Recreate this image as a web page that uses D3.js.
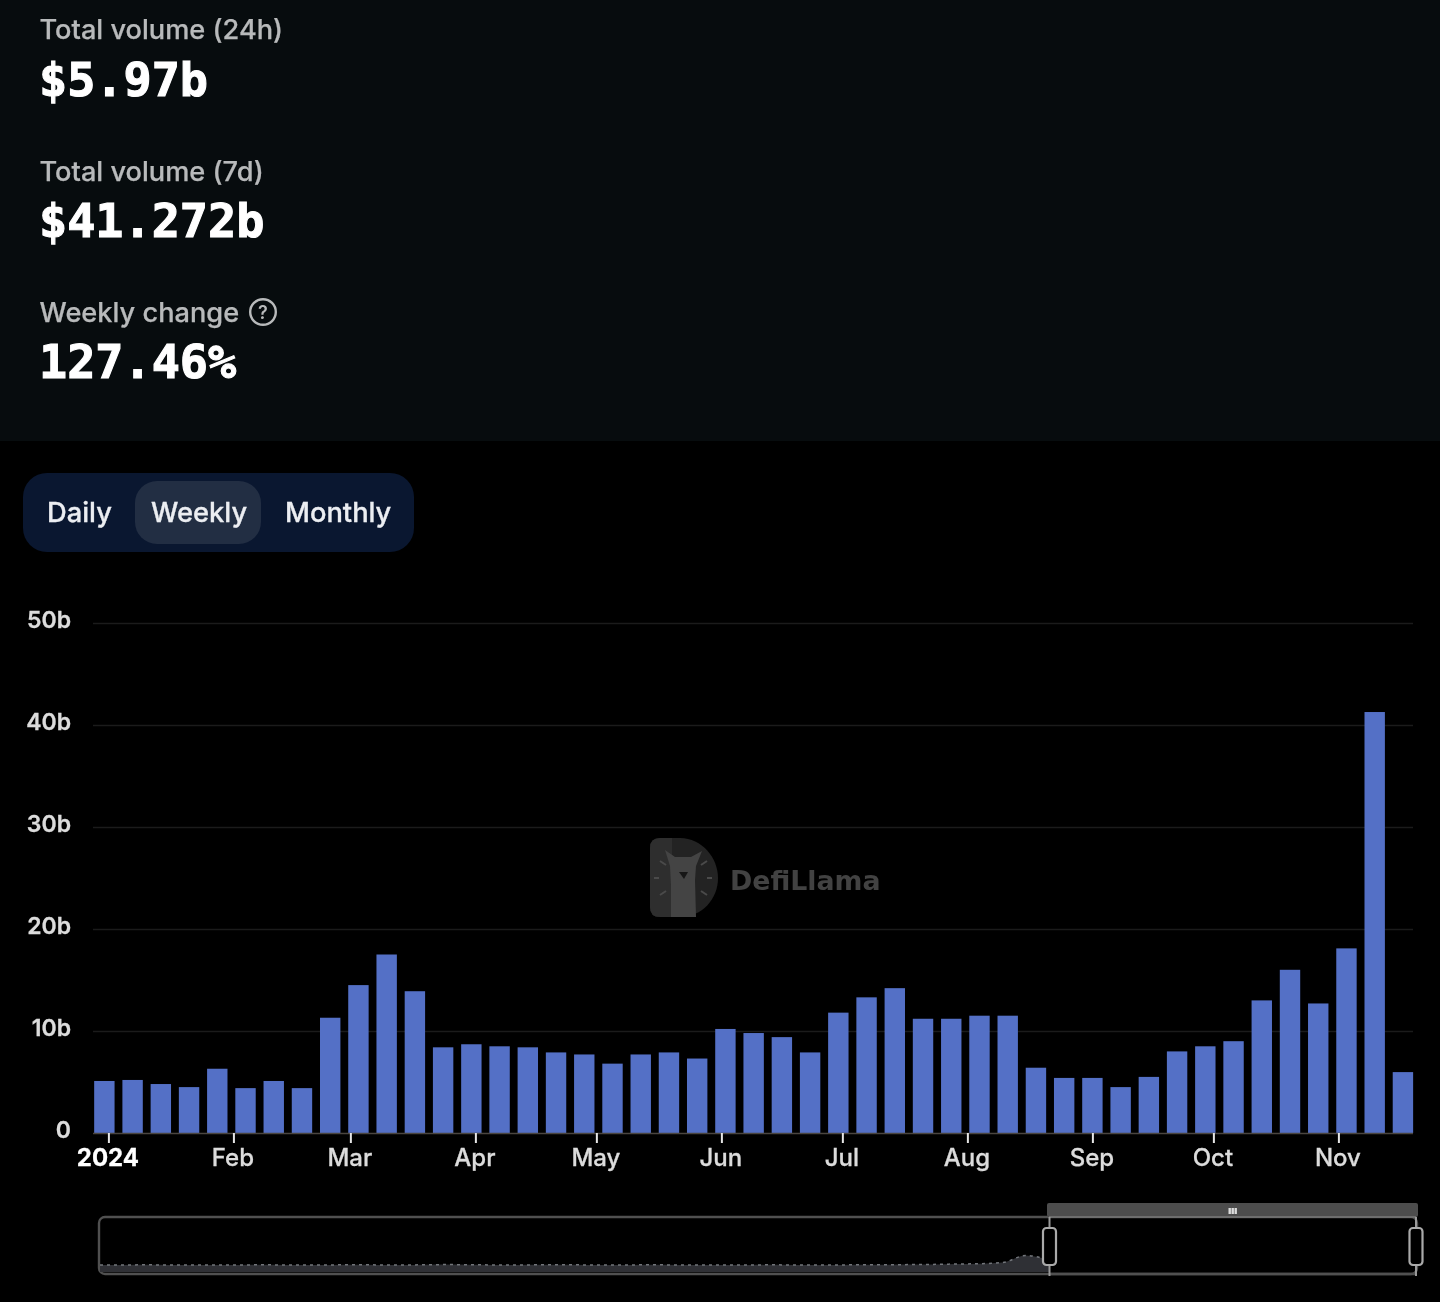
<!DOCTYPE html>
<html>
<head>
<meta charset="utf-8">
<script src="https://cdn.jsdelivr.net/npm/d3@7/dist/d3.min.js"></script>
<style>
html,body{margin:0;padding:0;background:#000;}
svg{display:block;filter:blur(0.55px);}
text{font-family:Inter,"Noto Sans",sans-serif;}
.big{font-family:"DejaVu Sans Mono",monospace;font-weight:700;font-size:46.8px;fill:#fff;stroke:#fff;stroke-width:1.1px;}
.lab{font-size:27.2px;font-weight:500;fill:#b8babb;stroke:#b8babb;stroke-width:.25px;}
.btn{font-size:27.3px;font-weight:500;fill:#eceef2;stroke:#eceef2;stroke-width:.3px;}
.wm{font-family:"DejaVu Sans",sans-serif;font-weight:700;font-size:26.8px;fill:#424242;}
</style>
</head>
<body>
<div id="chart"></div>
<script>
const weekStarts = d3.utcWeek.range(new Date(Date.UTC(2023,11,31)), new Date(Date.UTC(2024,10,18)));
const weeklyVolume = [5.1,5.2,4.8,4.5,6.3,4.4,5.1,4.4,11.3,14.5,17.5,13.9,8.4,8.7,8.5,8.4,7.9,7.7,6.8,7.7,7.9,7.3,10.2,9.8,9.4,7.9,11.8,13.3,14.2,11.2,11.2,11.5,11.5,6.4,5.4,5.4,4.5,5.5,8.0,8.5,9.0,13.0,16.0,12.7,18.1,41.272,5.97];
const yTicks = [0,10,20,30,40,50];
const monthTicks = d3.utcMonth.range(new Date(Date.UTC(2024,0,1)), new Date(Date.UTC(2024,11,1)));
const monthLabels = ["2024","Feb","Mar","Apr","May","Jun","Jul","Aug","Sep","Oct","Nov"];
const statLabels = ["Total volume (24h)","Total volume (7d)","Weekly change"];
const statValues = ["$5.97b","$41.272b","127.46%"];
const periodLabels = ["Daily","Weekly","Monthly"];
const sliderValues = [7,7,7.2,7,7,7.1,7,7.2,7,7,7.1,7.3,7.1,7,7.2,7.4,7.2,7.1,7,7.2,7.3,7.1,7,7.1,7.2,7,7,7.1,7,7.2,7,7,7.1,7.2,7.3,7.4,7.6,8,8.3,9.5,16.5,12];

const W=1440,H=1302;
const svg=d3.select("#chart").append("svg").attr("width",W).attr("height",H).attr("viewBox",`0 0 ${W} ${H}`);
svg.append("rect").attr("width",W).attr("height",H).attr("fill","#000");
svg.append("rect").attr("width",W).attr("height",441).attr("fill","#070c0e");

// stats
const statY=[39,181,322], bigY=[96,237,378];
statLabels.forEach((t,i)=>{
  svg.append("text").attr("class","lab").attr("x",39.5).attr("y",statY[i]).text(t);
  svg.append("text").attr("class","big").attr("x",39).attr("y",bigY[i]).text(statValues[i]);
});
const help=svg.append("g").attr("transform","translate(263,312)");
help.append("circle").attr("r",12.8).attr("fill","none").attr("stroke","#b8babb").attr("stroke-width",2.4);
help.append("text").attr("text-anchor","middle").attr("y",7).attr("font-size",18).attr("font-weight",600).attr("fill","#b8babb").text("?");

// period buttons
svg.append("rect").attr("x",23).attr("y",473).attr("width",391).attr("height",79).attr("rx",24).attr("fill","#0a1730");
svg.append("rect").attr("x",135).attr("y",481).attr("width",126).attr("height",63).attr("rx",22).attr("fill","#222e43");
const btnX=[47,151,285];
periodLabels.forEach((t,i)=>svg.append("text").attr("class","btn").attr("x",btnX[i]).attr("y",522).text(t));

// scales
const x=d3.scaleUtc().domain([monthTicks[0],monthTicks[10]]).range([108.4,1338.4]);
const y=d3.scaleLinear().domain([0,50]).range([1133,623]);
const barW=20.4;

// grid
const gridG=svg.append("g");
gridG.selectAll("line").data(yTicks.slice(1)).join("line")
  .attr("x1",93).attr("x2",1413).attr("y1",d=>y(d)+.5).attr("y2",d=>y(d)+.5).attr("stroke","#1b1b1b").attr("stroke-width",1.5);

// watermark
const wm=svg.append("g");
wm.append("path").attr("d","M650 848 Q650 838 660 838 L680 838 C702 838 718 858 718 878 C718 899 702 917 680 917 L660 917 Q650 917 650 907 Z").attr("fill","#232323");
wm.append("path").attr("d","M650 848 Q650 838 660 838 L672 838 L672 917 L660 917 Q650 917 650 907 Z").attr("fill","#2e2e2e");
wm.append("path").attr("d","M665 850 L675 857 L691 857 L702 851 L696 866 L695 880 L696 917 L671 917 L671 885 L670 866 Z").attr("fill","#444444");
[[660,861,666,865],[654,878,659,878],[660,895,666,891],[707,861,701,865],[712,878,707,878],[707,895,701,891]].forEach(s=>
  wm.append("line").attr("x1",s[0]).attr("y1",s[1]).attr("x2",s[2]).attr("y2",s[3]).attr("stroke","#4a4a4a").attr("stroke-width",2));
wm.append("path").attr("d","M679 872 L688 872 L684 879 Z").attr("fill","#161616");
wm.append("text").attr("class","wm").attr("x",730).attr("y",890).text("DefiLlama");

// bars
svg.append("g").selectAll("rect").data(weeklyVolume).join("rect")
  .attr("x",(d,i)=>x(weekStarts[i])-barW/2)
  .attr("width",barW)
  .attr("y",d=>y(d))
  .attr("height",d=>y(0)-y(d))
  .attr("fill","#5470c6");

// y axis labels
const yAxis=svg.append("g").attr("transform","translate(71,0)")
  .call(d3.axisLeft(y).tickValues(yTicks).tickSize(0).tickPadding(0).tickFormat(d=>d===0?"0":d+"b"));
yAxis.select(".domain").remove();
yAxis.selectAll("text").attr("font-size",23).attr("font-weight",600).attr("fill","#dcdcdc").attr("stroke","#dcdcdc").attr("stroke-width",.3).attr("dy",0).attr("y",-2).attr("dominant-baseline","middle").style("font-family","Inter");

// x axis
const xAxis=svg.append("g").attr("transform",`translate(0,${y(0)})`)
  .call(d3.axisBottom(x).tickValues(monthTicks).tickSize(10).tickPadding(6).tickFormat((d,i)=>monthLabels[i]));
xAxis.select(".domain").attr("d","M93,0.5H1413").attr("stroke","#4a4540").attr("stroke-width",1.5);
xAxis.selectAll(".tick line").attr("stroke","#e6e6e6").attr("stroke-width",2);
xAxis.selectAll(".tick text").attr("dx",-1).attr("font-size",24).attr("font-weight",(d,i)=>i===0?700:500).attr("fill",(d,i)=>i===0?"#fff":"#dcdcdc").attr("stroke",(d,i)=>i===0?"#fff":"#dcdcdc").attr("stroke-width",.3).style("font-family","Inter");

// slider
const sx=d3.scaleLinear().domain([0,sliderValues.length-1]).range([100,1049]);
const sy=d3.scaleLinear().domain([0,20]).range([1272,1252]);
svg.append("rect").attr("x",99).attr("y",1217).attr("width",1318).attr("height",57).attr("rx",6).attr("fill","none").attr("stroke","#505050").attr("stroke-width",2.4);
svg.append("path").datum(sliderValues)
  .attr("d",d3.area().x((d,i)=>sx(i)).y0(1272).y1(d=>sy(d)).curve(d3.curveMonotoneX)).attr("fill","#2f3035");
svg.append("path").datum(sliderValues)
  .attr("d",d3.line().x((d,i)=>sx(i)).y(d=>sy(d)).curve(d3.curveMonotoneX)).attr("fill","none").attr("stroke","#72757a").attr("stroke-width",1.5).attr("stroke-dasharray","3 4");
svg.append("rect").attr("x",1047).attr("y",1203).attr("width",371).attr("height",14).attr("rx",2).attr("fill","#4d4d4d");
[1228.5,1231.5,1234.5].forEach(px=>svg.append("rect").attr("x",px).attr("y",1208).attr("width",2.4).attr("height",6).attr("fill","#ddd"));
svg.append("line").attr("x1",1049).attr("x2",1416).attr("y1",1217).attr("y2",1217).attr("stroke","#6e6e6e").attr("stroke-width",2);
svg.append("line").attr("x1",1049).attr("x2",1416).attr("y1",1274).attr("y2",1274).attr("stroke","#505050").attr("stroke-width",2.4);
[1049.5,1416].forEach(px=>{
  svg.append("line").attr("x1",px).attr("x2",px).attr("y1",1217).attr("y2",1276).attr("stroke","#999").attr("stroke-width",2);
  svg.append("rect").attr("x",px-6.5).attr("y",1228).attr("width",13).attr("height",37).attr("rx",3.5).attr("fill","#000").attr("stroke","#aaa").attr("stroke-width",2.2);
});
</script>
</body>
</html>
